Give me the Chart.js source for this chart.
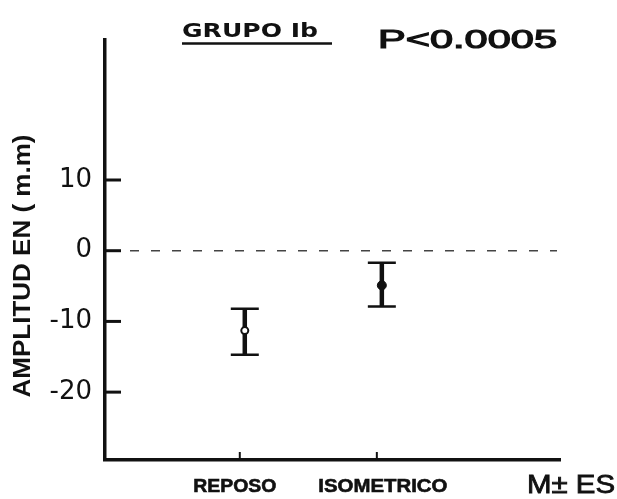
<!DOCTYPE html>
<html>
<head>
<meta charset="utf-8">
<script src="https://cdn.jsdelivr.net/npm/chart.js@4/dist/chart.umd.min.js"></script>
<style>
html,body{margin:0;padding:0;background:#fff;}
#wrap{width:617px;height:499px;position:relative;}
</style>
</head>
<body>
<div id="wrap"><canvas id="c" width="617" height="499"></canvas></div>
<script>
// ---- data ----
const categories = ["REPOSO", "ISOMETRICO"];
const positions = [1, 2];
const means = [-11.3, -4.9];
const upper = [-8.2, -1.7];
const lower = [-14.7, -7.9];
const yTicks = [-20, -10, 0, 10];
const titleText = "GRUPO Ib";
const pText = "P<0.0005";
const yTitle = "AMPLITUD EN ( m.m)";
const xNote = "M\u00B1 ES";

const INK = "#111";

function fitText(ctx, text, x, y, w, align, strokeW) {
  const m = ctx.measureText(text).width;
  const s = w / m;
  ctx.save();
  ctx.translate(x, y);
  ctx.scale(s, 1);
  ctx.textAlign = align || "left";
  ctx.fillText(text, 0, 0);
  if (strokeW) {
    ctx.lineWidth = strokeW;
    ctx.strokeStyle = ctx.fillStyle;
    ctx.strokeText(text, 0, 0);
  }
  ctx.restore();
}

const decor = {
  id: "decor",
  beforeDatasetsDraw(chart) {
    const ctx = chart.ctx, xs = chart.scales.x, ys = chart.scales.y, ca = chart.chartArea;
    ctx.save();
    // zero dashed reference line
    const y0 = ys.getPixelForValue(0);
    ctx.strokeStyle = "#444";
    ctx.lineWidth = 1.5;
    ctx.setLineDash([9, 12]);
    ctx.beginPath();
    ctx.moveTo(ca.left + 4, y0);
    ctx.lineTo(ca.right - 3, y0);
    ctx.stroke();
    ctx.setLineDash([]);
    // inward y ticks
    ctx.strokeStyle = INK;
    ctx.lineWidth = 3;
    yTicks.forEach(v => {
      const py = ys.getPixelForValue(v);
      ctx.beginPath();
      ctx.moveTo(ca.left, py);
      ctx.lineTo(ca.left + 16, py);
      ctx.stroke();
    });
    // small x ticks
    ctx.lineWidth = 2;
    positions.forEach(p => {
      const px = xs.getPixelForValue(p) - 5;
      ctx.beginPath();
      ctx.moveTo(px, ca.bottom);
      ctx.lineTo(px, ca.bottom - 8);
      ctx.stroke();
    });
    // error bars
    positions.forEach((p, i) => {
      const px = xs.getPixelForValue(p);
      const pu = ys.getPixelForValue(upper[i]);
      const pl = ys.getPixelForValue(lower[i]);
      ctx.strokeStyle = INK;
      ctx.lineWidth = 4.5;
      ctx.beginPath();
      ctx.moveTo(px, pu);
      ctx.lineTo(px, pl);
      ctx.stroke();
      ctx.lineWidth = 2.5;
      ctx.beginPath();
      ctx.moveTo(px - 14, pu);
      ctx.lineTo(px + 14, pu);
      ctx.moveTo(px - 14, pl);
      ctx.lineTo(px + 14, pl);
      ctx.stroke();
    });
    ctx.restore();
  },
  afterDraw(chart) {
    const ctx = chart.ctx, xs = chart.scales.x;
    ctx.save();
    ctx.fillStyle = INK;
    ctx.textBaseline = "alphabetic";
    // title
    ctx.font = "bold 20px 'DejaVu Sans'";
    fitText(ctx, titleText, 182, 37, 136, "left");
    ctx.strokeStyle = INK;
    ctx.lineWidth = 2.5;
    ctx.beginPath();
    ctx.moveTo(182, 43.5);
    ctx.lineTo(332, 43.5);
    ctx.stroke();
    // p value
    ctx.font = "26px 'Liberation Sans'";
    fitText(ctx, pText, 378, 48, 179, "left", 1.2);
    // category labels
    ctx.font = "bold 19px 'Liberation Sans'";
    const labelW = [83, 129];
    const labelOff = [-10, 1];
    categories.forEach((c, i) => {
      const px = xs.getPixelForValue(positions[i]) + labelOff[i];
      fitText(ctx, c, px, 492, labelW[i], "center", 0.6);
    });
    // M ± ES
    ctx.font = "25px 'Liberation Sans'";
    fitText(ctx, xNote, 527, 493, 88, "left", 0.8);
    // y axis title
    ctx.save();
    ctx.translate(30, 266);
    ctx.rotate(-Math.PI / 2);
    ctx.font = "bold 23px 'Liberation Sans'";
    fitText(ctx, yTitle, 0, 0, 263, "center");
    ctx.restore();
    ctx.restore();
  }
};

new Chart(document.getElementById("c"), {
  type: "scatter",
  data: {
    datasets: [{
      data: positions.map((p, i) => ({ x: p, y: means[i] })),
      pointRadius: [3.5, 4.5],
      pointBackgroundColor: ["#fff", INK],
      pointBorderColor: INK,
      pointBorderWidth: [2, 1],
      showLine: false
    }]
  },
  options: {
    responsive: false,
    animation: false,
    events: [],
    layout: { padding: { top: 40, right: 57, left: 0, bottom: 0 } },
    plugins: { legend: { display: false }, tooltip: { enabled: false }, title: { display: false } },
    scales: {
      x: {
        type: "linear",
        min: -0.02,
        max: 3.3,
        grid: { display: false },
        border: { display: true, color: INK, width: 3.5 },
        ticks: { display: false },
        afterFit(s) { s.height = 39; }
      },
      y: {
        type: "linear",
        min: -29.6,
        max: 29.8,
        grid: { display: false },
        border: { display: true, color: INK, width: 3.5 },
        afterBuildTicks(s) { s.ticks = yTicks.map(v => ({ value: v })); },
        ticks: {
          color: INK,
          padding: 5,
          font: { family: "'DejaVu Sans'", size: 26 },
          callback: v => String(v)
        },
        afterFit(s) { s.width = 105; }
      }
    }
  },
  plugins: [decor]
});
</script>
</body>
</html>
